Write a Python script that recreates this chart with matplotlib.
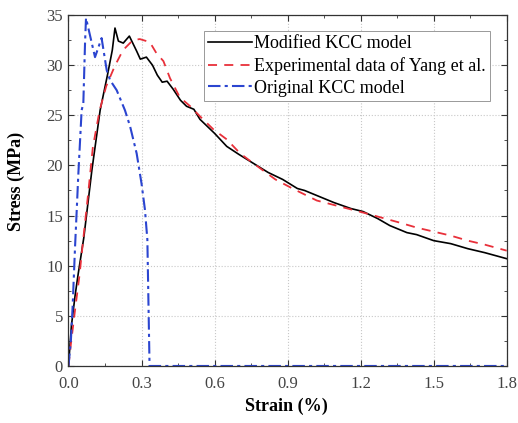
import matplotlib
matplotlib.use("Agg")
import matplotlib.pyplot as plt
from matplotlib.ticker import MultipleLocator

plt.rcParams['font.family'] = ['Liberation Serif', 'DejaVu Serif']

# modified KCC model (strain %, stress MPa)
mod_strain = [0, 0.012, 0.027, 0.04, 0.063, 0.096, 0.13, 0.16, 0.18, 0.191, 0.205, 0.225, 0.25,
              0.28, 0.295, 0.32, 0.345, 0.365, 0.385, 0.405, 0.43, 0.46, 0.485, 0.515, 0.54,
              0.57, 0.6, 0.65, 0.7, 0.76, 0.82, 0.88, 0.94, 0.97, 1.02, 1.09, 1.16, 1.21, 1.27,
              1.32, 1.39, 1.43, 1.5, 1.57, 1.64, 1.71, 1.8]
mod_stress = [0, 4, 7, 9.2, 12.8, 19.5, 25.5, 29, 31.5, 33.7, 32.4, 32.2, 32.9,
              31.4, 30.6, 30.8, 30.0, 29.0, 28.3, 28.4, 27.6, 26.5, 25.9, 25.6, 24.6,
              23.9, 23.2, 21.9, 21.1, 20.2, 19.3, 18.6, 17.7, 17.5, 17.0, 16.3, 15.7, 15.4, 14.7,
              14.0, 13.3, 13.1, 12.5, 12.2, 11.7, 11.3, 10.7]

# experimental data of Yang et al.
exp_strain = [0, 0.01, 0.025, 0.045, 0.06, 0.08, 0.1, 0.128, 0.155, 0.19, 0.224, 0.265, 0.293,
              0.334, 0.361, 0.39, 0.417, 0.457, 0.5, 0.54, 0.595, 0.65, 0.705, 0.76, 0.85,
              0.92, 1.02, 1.21, 1.3, 1.36, 1.43, 1.5, 1.57, 1.64, 1.71, 1.8]
exp_stress = [0, 2.2, 5.2, 9, 12.5, 17, 21.8, 25.5, 27.9, 29.9, 31.5, 32.5, 32.6,
              32.3, 31.2, 30.4, 28.7, 26.8, 25.9, 24.9, 23.6, 22.6, 21.2, 20.2, 18.6,
              17.7, 16.5, 15.3, 14.7, 14.3, 13.8, 13.4, 13.0, 12.5, 12.1, 11.5]

# original KCC model
org_strain = [0, 0.01, 0.017, 0.027, 0.034, 0.04, 0.047, 0.054, 0.061, 0.068, 0.072, 0.109,
              0.136, 0.157, 0.171, 0.198, 0.232, 0.253, 0.28, 0.3, 0.314, 0.324, 0.333, 1.8]
org_stress = [0, 2.6, 5.9, 11.9, 15.6, 18.9, 22.2, 25.5, 26.2, 32.2, 34.7, 30.8,
              32.7, 29.5, 28.5, 27.5, 25.5, 23.9, 21.2, 18.2, 15.6, 12.6, 0, 0]

fig = plt.figure(figsize=(5.18, 4.23), dpi=100)
ax = fig.add_axes([0.1322, 0.1348, 0.8460, 0.8297])

ax.plot(mod_strain, mod_stress, color='black', lw=1.2, label='Modified KCC model')
ax.plot(exp_strain, exp_stress, color='#e8303a', lw=1.3, ls=(0, (5, 4)),
        label='Experimental data of Yang et al.')
ax.plot(org_strain, org_stress, color='#2b45d0', lw=1.5, ls=(0, (6, 2, 1.5, 2)),
        label='Original KCC model')

ax.set_xlim(0, 1.8)
ax.set_ylim(0, 35)
ax.xaxis.set_major_locator(MultipleLocator(0.3))
ax.xaxis.set_minor_locator(MultipleLocator(0.15))
ax.yaxis.set_major_locator(MultipleLocator(5))
ax.yaxis.set_minor_locator(MultipleLocator(2.5))
ax.set_xticklabels([f'{v:.1f}' for v in ax.get_xticks()])

ax.tick_params(which='both', direction='in', top=True, right=True, colors='#333333',
               labelsize=12, labelcolor='#444444')
ax.tick_params(which='major', length=4, width=0.8)
ax.tick_params(which='minor', length=2.5, width=0.6)
ax.tick_params(axis='x', which='major', pad=7)
ax.tick_params(axis='y', which='major', pad=4)
for s in ax.spines.values():
    s.set_color('#333333')
    s.set_linewidth(0.9)

ax.grid(True, which='major', ls=':', color='#c8c8c8', lw=0.8)

ax.set_xlabel('Strain (%)', fontsize=13, fontweight='bold')
ax.set_ylabel('Stress (MPa)', fontsize=13, fontweight='bold')
ax.xaxis.set_label_coords(0.4975, -0.091)
ax.yaxis.set_label_coords(-0.099, 0.527)

leg = ax.legend(loc='upper right', bbox_to_anchor=(0.962, 0.954), borderaxespad=0,
                fontsize=13, fancybox=False, framealpha=1, edgecolor='#999999',
                handlelength=2.4, borderpad=0.22, labelspacing=0.27, handletextpad=0.15)
leg.get_frame().set_linewidth(0.7)

fig.savefig('out.png', dpi=100)
